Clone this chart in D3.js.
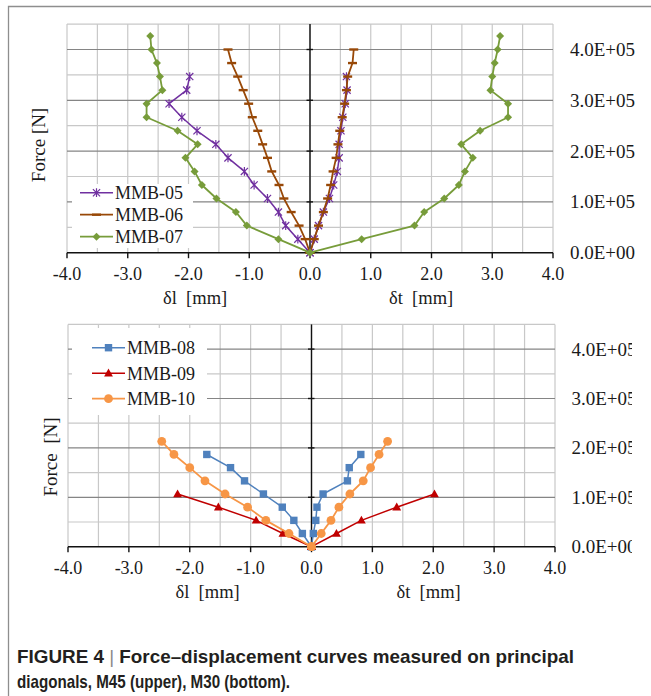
<!DOCTYPE html>
<html>
<head>
<meta charset="utf-8">
<script src="https://cdn.jsdelivr.net/npm/d3@7"></script>
<style>
  body { margin: 0; background: #fff; }
  svg { display: block; }
</style>
</head>
<body>
<svg id="fig" width="651" height="696"></svg>
<script>
// Force levels of the loading steps [N]
const forceLevels = [0, 26700, 53300, 80000, 106700, 133300, 160000, 186700, 213300,
                     240000, 266700, 293300, 320000, 346700, 373300, 400000, 426700];

// Axis ticks
const xTicks = [-4, -3, -2, -1, 0, 1, 2, 3, 4];
const xTickLabels = ["-4.0", "-3.0", "-2.0", "-1.0", "0.0", "1.0", "2.0", "3.0", "4.0"];
const yTicks = [0, 100000, 200000, 300000, 400000];
const yTickLabels = ["0.0E+00", "1.0E+05", "2.0E+05", "3.0E+05", "4.0E+05"];

// M45 specimens: displacement along the two diagonals [mm]
// (δl drawn on the negative side, δt on the positive side)
const names45 = ["MMB-05", "MMB-06", "MMB-07"];
const mmb05_dl = [0, -0.20, -0.40, -0.52, -0.70, -0.92, -1.08, -1.35, -1.55, -1.86, -2.11, -2.32, -2.03, -1.98];
const mmb05_dt = [0, 0.07, 0.14, 0.22, 0.32, 0.39, 0.45, 0.48, 0.48, 0.51, 0.54, 0.58, 0.61, 0.60];
const mmb06_dl = [0, -0.08, -0.18, -0.31, -0.43, -0.51, -0.63, -0.70, -0.78, -0.86, -0.95, -1.01, -1.10, -1.19, -1.29, -1.35];
const mmb06_dt = [0, 0.07, 0.14, 0.22, 0.29, 0.34, 0.38, 0.43, 0.46, 0.49, 0.53, 0.57, 0.60, 0.62, 0.70, 0.72];
const mmb07_dl = [0, -0.52, -1.04, -1.22, -1.54, -1.78, -1.90, -2.05, -1.85, -2.18, -2.69, -2.69, -2.43, -2.47, -2.52, -2.61, -2.63];
const mmb07_dt = [0, 0.85, 1.72, 1.88, 2.21, 2.45, 2.55, 2.68, 2.49, 2.80, 3.26, 3.26, 2.97, 3.00, 3.04, 3.09, 3.13];

// M30 specimens
const names30 = ["MMB-08", "MMB-09", "MMB-10"];
const mmb08_dl = [0, -0.15, -0.29, -0.48, -0.79, -1.10, -1.33, -1.72];
const mmb08_dt = [0, 0.03, 0.07, 0.09, 0.19, 0.59, 0.62, 0.81];
const mmb09_dl = [0, -0.47, -0.91, -1.53, -2.20];
const mmb09_dt = [0, 0.41, 0.82, 1.40, 2.02];
const mmb10_dl = [0, -0.37, -0.75, -1.05, -1.42, -1.75, -2.00, -2.26, -2.46];
const mmb10_dt = [0, 0.16, 0.32, 0.45, 0.63, 0.85, 0.97, 1.11, 1.25];

const SERIF = "'Liberation Serif', 'Times New Roman', serif";
const svg = d3.select("#fig");

svg.append("rect").attr("width", 651).attr("height", 696).attr("fill", "#fff");

// Figure frame (top and left edges)
svg.append("path")
  .attr("d", "M8.5,696 L8.5,6.5 L651,6.5")
  .attr("fill", "none").attr("stroke", "#8e8e8e").attr("stroke-width", 1.3);

function drawMarker(g, type, cx, cy, color) {
  if (type === "star") {
    const s = 3.6;
    g.append("path")
      .attr("d", `M${cx - s},${cy - s}L${cx + s},${cy + s}M${cx - s},${cy + s}L${cx + s},${cy - s}M${cx},${cy - s - 0.8}L${cx},${cy + s + 0.8}`)
      .attr("stroke", color).attr("stroke-width", 1.2).attr("fill", "none");
  } else if (type === "dash") {
    g.append("line")
      .attr("x1", cx - 4.5).attr("x2", cx + 4.5).attr("y1", cy).attr("y2", cy)
      .attr("stroke", color).attr("stroke-width", 2.4);
  } else if (type === "diamond") {
    const r = 4;
    g.append("path")
      .attr("d", `M${cx},${cy - r}L${cx + r},${cy}L${cx},${cy + r}L${cx - r},${cy}Z`)
      .attr("fill", color);
  } else if (type === "square") {
    const s = 7.4;
    g.append("rect")
      .attr("x", cx - s / 2).attr("y", cy - s / 2).attr("width", s).attr("height", s)
      .attr("fill", color);
  } else if (type === "triangle") {
    g.append("path")
      .attr("d", `M${cx},${cy - 4.6}L${cx + 4.4},${cy + 3.2}L${cx - 4.4},${cy + 3.2}Z`)
      .attr("fill", color);
  } else if (type === "circle") {
    g.append("circle").attr("cx", cx).attr("cy", cy).attr("r", 4.4).attr("fill", color);
  }
}

function drawPanel(p) {
  const g = svg.append("g");
  const x = d3.scaleLinear().domain([-4, 4]).range(p.xRange);
  const y = d3.scaleLinear().domain([0, 450000]).range(p.yRange);

  // minor grid: vertical every 0.5 mm, horizontal at the half steps
  d3.range(-4, 4.001, 0.5).forEach(v => {
    g.append("line")
      .attr("x1", x(v)).attr("x2", x(v)).attr("y1", y(0)).attr("y2", y(450000))
      .attr("stroke", "#c8c8c8").attr("stroke-width", 1.2);
  });
  d3.range(50000, 450001, 100000).forEach(v => {
    g.append("line")
      .attr("x1", x(-4)).attr("x2", x(4)).attr("y1", y(v)).attr("y2", y(v))
      .attr("stroke", "#c8c8c8").attr("stroke-width", 1.2);
  });
  // major grid
  yTicks.slice(1).forEach(v => {
    g.append("line")
      .attr("x1", x(-4)).attr("x2", x(4)).attr("y1", y(v)).attr("y2", y(v))
      .attr("stroke", "#858585").attr("stroke-width", 1.2);
  });

  // legend box hides the grid underneath
  g.append("rect")
    .attr("x", p.legend.box[0]).attr("y", p.legend.box[1])
    .attr("width", p.legend.box[2]).attr("height", p.legend.box[3])
    .attr("fill", "#fff");

  // vertical axis through zero with cross ticks
  g.append("line")
    .attr("x1", x(0)).attr("x2", x(0)).attr("y1", y(0)).attr("y2", y(450000))
    .attr("stroke", "#111").attr("stroke-width", 1.4);
  yTicks.slice(1).forEach(v => {
    g.append("line")
      .attr("x1", x(0) - 3.5).attr("x2", x(0) + 3).attr("y1", y(v)).attr("y2", y(v))
      .attr("stroke", "#111").attr("stroke-width", 1.4);
  });

  // horizontal axis
  g.append("line")
    .attr("x1", x(-4)).attr("x2", x(4)).attr("y1", y(0)).attr("y2", y(0))
    .attr("stroke", "#111").attr("stroke-width", 1.6);
  xTicks.forEach((v, i) => {
    g.append("line")
      .attr("x1", x(v)).attr("x2", x(v)).attr("y1", y(0)).attr("y2", y(0) + 5.5)
      .attr("stroke", "#111").attr("stroke-width", 1.4);
    g.append("text")
      .attr("x", x(v)).attr("y", y(0) + 27.5)
      .attr("text-anchor", "middle")
      .attr("font-family", SERIF).attr("font-size", 18).attr("fill", "#1a1a1a")
      .text(xTickLabels[i]);
  });

  // force labels on the right
  const yLab = g.append("g");
  if (p.clipRight) {
    const id = "clip" + p.id;
    svg.append("clipPath").attr("id", id)
      .append("rect").attr("x", 0).attr("y", 0).attr("width", p.clipRight).attr("height", 696);
    yLab.attr("clip-path", `url(#${id})`);
  }
  yTicks.forEach((v, i) => {
    yLab.append("text")
      .attr("x", p.yLabelX).attr("y", y(v) + 6.5)
      .attr("font-family", SERIF).attr("font-size", 19).attr("fill", "#1a1a1a")
      .text(yTickLabels[i]);
  });

  // axis titles
  g.append("text")
    .attr("x", p.dlTitle[0]).attr("y", p.dlTitle[1])
    .attr("font-family", SERIF).attr("font-size", 18.5).attr("fill", "#1a1a1a")
    .attr("xml:space", "preserve").style("white-space", "pre")
    .text("δl  [mm]");
  g.append("text")
    .attr("x", p.dtTitle[0]).attr("y", p.dtTitle[1])
    .attr("font-family", SERIF).attr("font-size", 18.5).attr("fill", "#1a1a1a")
    .attr("xml:space", "preserve").style("white-space", "pre")
    .text("δt  [mm]");
  g.append("text")
    .attr("transform", `translate(${p.forceTitle[0]},${p.forceTitle[1]}) rotate(-90)`)
    .attr("text-anchor", "middle")
    .attr("font-family", SERIF).attr("font-size", 19).attr("fill", "#1a1a1a")
    .attr("xml:space", "preserve").style("white-space", "pre")
    .text(p.forceText);

  // data series
  p.series.forEach(s => {
    [s.dl, s.dt].forEach(vals => {
      const pts = vals.map((v, i) => [x(v), y(forceLevels[i])]);
      g.append("path")
        .attr("d", d3.line()(pts))
        .attr("fill", "none").attr("stroke", s.color).attr("stroke-width", s.lw)
        .attr("stroke-linejoin", "round");
      pts.forEach(pt => drawMarker(g, s.marker, pt[0], pt[1], s.color));
    });
  });

  // legend entries
  p.series.forEach((s, i) => {
    const ly = p.legend.y0 + i * p.legend.dy;
    g.append("line")
      .attr("x1", p.legend.x0).attr("x2", p.legend.x0 + 33).attr("y1", ly).attr("y2", ly)
      .attr("stroke", s.color).attr("stroke-width", s.lw);
    drawMarker(g, s.marker, p.legend.x0 + 16.5, ly, s.color);
    g.append("text")
      .attr("x", p.legend.x0 + 35).attr("y", ly + 6.5)
      .attr("font-family", SERIF).attr("font-size", 18).attr("fill", "#1a1a1a")
      .text(s.name);
  });
}

drawPanel({
  id: "M45",
  xRange: [67, 553], yRange: [252.7, 24.1],
  yLabelX: 570,
  dlTitle: [163, 304], dtTitle: [389, 304],
  forceTitle: [45, 145], forceText: "Force [N]",
  legend: { box: [72, 184, 121, 64], x0: 80, y0: 192.7, dy: 22 },
  series: [
    { name: names45[0], dl: mmb05_dl, dt: mmb05_dt, color: "#7030A0", marker: "star", lw: 1.5 },
    { name: names45[1], dl: mmb06_dl, dt: mmb06_dt, color: "#984807", marker: "dash", lw: 1.8 },
    { name: names45[2], dl: mmb07_dl, dt: mmb07_dt, color: "#779C3A", marker: "diamond", lw: 1.8 }
  ]
});

drawPanel({
  id: "M30",
  xRange: [68, 555], yRange: [546.7, 324.4],
  yLabelX: 571.5, clipRight: 632,
  dlTitle: [175.5, 598], dtTitle: [396.5, 598],
  forceTitle: [57, 457], forceText: "Force  [N]",
  legend: { box: [72, 328, 135, 87], x0: 92, y0: 347.7, dy: 25.5 },
  series: [
    { name: names30[0], dl: mmb08_dl, dt: mmb08_dt, color: "#4F81BD", marker: "square", lw: 1.5 },
    { name: names30[1], dl: mmb09_dl, dt: mmb09_dt, color: "#C00000", marker: "triangle", lw: 1.5 },
    { name: names30[2], dl: mmb10_dl, dt: mmb10_dt, color: "#F79646", marker: "circle", lw: 1.8 }
  ]
});

// Caption
const CAP = "'Liberation Sans Narrow', 'Arial Narrow', 'Liberation Sans', Arial, sans-serif";
const cap1 = svg.append("text")
  .attr("x", 17).attr("y", 663)
  .attr("font-family", CAP).attr("font-size", 19).attr("font-weight", "bold").attr("fill", "#231f20")
  .attr("textLength", 557).attr("lengthAdjust", "spacingAndGlyphs");
cap1.append("tspan").text("FIGURE 4 ");
cap1.append("tspan").attr("font-weight", "normal").attr("fill", "#8a8a8a").text("|");
cap1.append("tspan").text(" Force–displacement curves measured on principal");

svg.append("text")
  .attr("x", 17).attr("y", 688)
  .attr("font-family", CAP).attr("font-size", 19).attr("font-weight", "bold").attr("fill", "#231f20")
  .attr("textLength", 273).attr("lengthAdjust", "spacingAndGlyphs")
  .text("diagonals, M45 (upper), M30 (bottom).");
</script>
</body>
</html>
